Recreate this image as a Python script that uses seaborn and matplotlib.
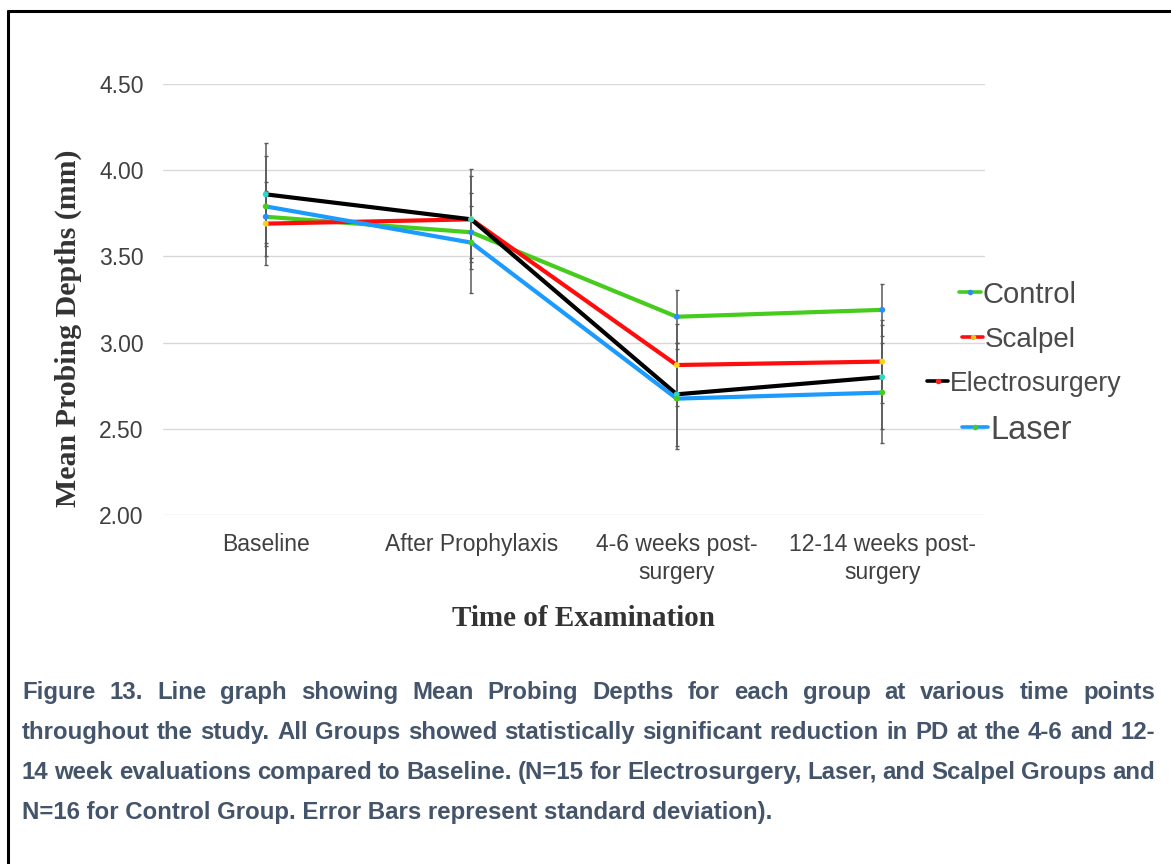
import numpy as np
import pandas as pd
import matplotlib
matplotlib.use("Agg")
import matplotlib.pyplot as plt
from matplotlib.lines import Line2D
import seaborn as sns

# ---- data -------------------------------------------------------------
time_points = ["Baseline", "After Prophylaxis", "4-6 weeks post-\nsurgery",
               "12-14 weeks post-\nsurgery"]
groups = ["Control", "Scalpel", "Electrosurgery", "Laser"]

control_mean = [3.73, 3.64, 3.15, 3.19]
control_sd = [0.15, 0.15, 0.155, 0.15]
scalpel_mean = [3.69, 3.715, 2.87, 2.89]
scalpel_sd = [0.24, 0.25, 0.24, 0.24]
electro_mean = [3.86, 3.715, 2.70, 2.80]
electro_sd = [0.30, 0.29, 0.30, 0.30]
laser_mean = [3.79, 3.58, 2.675, 2.71]
laser_sd = [0.29, 0.29, 0.29, 0.29]

y_ticks = [2.00, 2.50, 3.00, 3.50, 4.00, 4.50]

caption_lines = [
    "Figure 13. Line graph showing Mean Probing Depths for each group at various time points",
    "throughout the study. All Groups showed statistically significant reduction in PD at the 4-6 and 12-",
    "14 week evaluations compared to Baseline. (N=15 for Electrosurgery, Laser, and Scalpel Groups and",
    "N=16 for Control Group. Error Bars represent standard deviation).",
]

# ---- styling ----------------------------------------------------------
line_colors = {"Control": "#46cc1c", "Scalpel": "#ff0d0d",
               "Electrosurgery": "#000000", "Laser": "#1c9bff"}
dot_colors = {"Control": "#2a8cff", "Scalpel": "#ffd21a",
              "Electrosurgery": "#2ed8c8", "Laser": "#46cc1c"}
legend_dot = {"Control": "#2a8cff", "Scalpel": "#e8c21a",
              "Electrosurgery": "#ff2020", "Laser": "#46cc1c"}

sns.set_theme(style="white")
plt.rcParams["font.family"] = ["Liberation Sans", "DejaVu Sans"]

means = {"Control": control_mean, "Scalpel": scalpel_mean,
         "Electrosurgery": electro_mean, "Laser": laser_mean}
sds = {"Control": control_sd, "Scalpel": scalpel_sd,
       "Electrosurgery": electro_sd, "Laser": laser_sd}

df = pd.DataFrame({
    "time": np.tile(np.arange(len(time_points)), len(groups)),
    "group": np.repeat(groups, len(time_points)),
    "mean": np.concatenate([means[g] for g in groups]),
    "sd": np.concatenate([sds[g] for g in groups]),
})

W, H = 1171, 864
fig = plt.figure(figsize=(W / 100, H / 100), dpi=100)
ax = fig.add_axes([163 / W, 1 - 515 / H, (985 - 163) / W, (515 - 84) / H])

# error bars (standard deviation) behind the lines
for g in groups:
    sub = df[df["group"] == g]
    ax.errorbar(sub["time"], sub["mean"], yerr=sub["sd"], fmt="none",
                ecolor="#5a5a5a", elinewidth=1.1, capsize=1.6,
                capthick=1.0, zorder=2)

sns.lineplot(data=df, x="time", y="mean", hue="group", hue_order=groups,
             palette=line_colors, linewidth=3.0, legend=False, ax=ax,
             zorder=3)
sns.scatterplot(data=df, x="time", y="mean", hue="group", hue_order=groups,
                palette=dot_colors, s=18, linewidth=0, legend=False, ax=ax,
                zorder=4)

ax.set_xlim(-0.5, 3.5)
ax.set_ylim(2.0, 4.5)
ax.set_yticks(y_ticks)
ax.set_yticklabels([f"{v:.2f}" for v in y_ticks])
ax.set_xticks(np.arange(len(time_points)))
ax.set_xticklabels(time_points)
ax.tick_params(axis="both", length=0, labelsize=16.5, labelcolor="#404040")
ax.tick_params(axis="y", pad=14)
ax.tick_params(axis="x", pad=13)
for lab in ax.get_xticklabels():
    lab.set_linespacing(1.25)
ax.yaxis.grid(True, color="#d9d9d9", linewidth=1.0)
ax.xaxis.grid(False)
for s in ax.spines.values():
    s.set_visible(False)

serif = ["Liberation Serif", "DejaVu Serif"]
ax.set_xlabel("Time of Examination", family=serif, fontweight="bold",
              fontsize=21, color="#333333", va="center")
ax.xaxis.set_label_coords((584 - 163) / 822, (515 - 619) / 431)
ax.set_ylabel("Mean Probing Depths (mm)", family=serif, fontweight="bold",
              fontsize=21.5, color="#333333", va="center")
ax.yaxis.set_label_coords((68 - 163) / 822, (515 - 328) / 431)

# ---- legend, one entry per row with its own text size ------------------
legend_rows = [
    ("Control", 292, 959, 981, 21),
    ("Scalpel", 337, 962, 983, 20),
    ("Electrosurgery", 381, 927, 948, 19.2),
    ("Laser", 427, 962, 988, 23.5),
]
for name, yc, hx0, hx1, fs in legend_rows:
    yf = 1 - yc / H
    fig.add_artist(Line2D([hx0 / W, hx1 / W], [yf, yf], color=line_colors[name],
                          linewidth=2.6, transform=fig.transFigure))
    fig.add_artist(Line2D([(hx0 + hx1) / 2 / W], [yf], marker="o",
                          markersize=4, markerfacecolor=legend_dot[name],
                          markeredgewidth=0, linestyle="none",
                          transform=fig.transFigure))
    fig.text((hx1 + 2) / W, yf, name, fontsize=fs, color="#4a4a4a",
             ha="left", va="center_baseline")

# ---- caption, justified -----------------------------------------------
cap_kw = dict(fontsize=17.3, fontweight="bold", color="#44546a", ha="left",
              va="baseline")
x_left, x_right = 22, 1155
baselines = [699, 739, 779, 819]
renderer = fig.canvas.get_renderer()
for i, (line, yb) in enumerate(zip(caption_lines, baselines)):
    if i == len(caption_lines) - 1:
        fig.text(x_left / W, 1 - yb / H, line, **cap_kw)
        continue
    words = line.split(" ")
    texts = [fig.text(0, 1 - yb / H, w, **cap_kw) for w in words]
    widths = [t.get_window_extent(renderer).width for t in texts]
    gap = (x_right - x_left - sum(widths)) / (len(words) - 1)
    x = x_left
    for t, w in zip(texts, widths):
        t.set_x(x / W)
        x += w + gap

# ---- frame edges --------------------------------------------------------
fig.add_artist(Line2D([8 / W, 1.0], [1 - 11 / H, 1 - 11 / H], color="black",
                      linewidth=2.2, transform=fig.transFigure))
fig.add_artist(Line2D([8 / W, 8 / W], [1 - 11 / H, 0.0], color="black",
                      linewidth=2.2, transform=fig.transFigure))

fig.savefig("out.png", dpi=100, facecolor="white")
